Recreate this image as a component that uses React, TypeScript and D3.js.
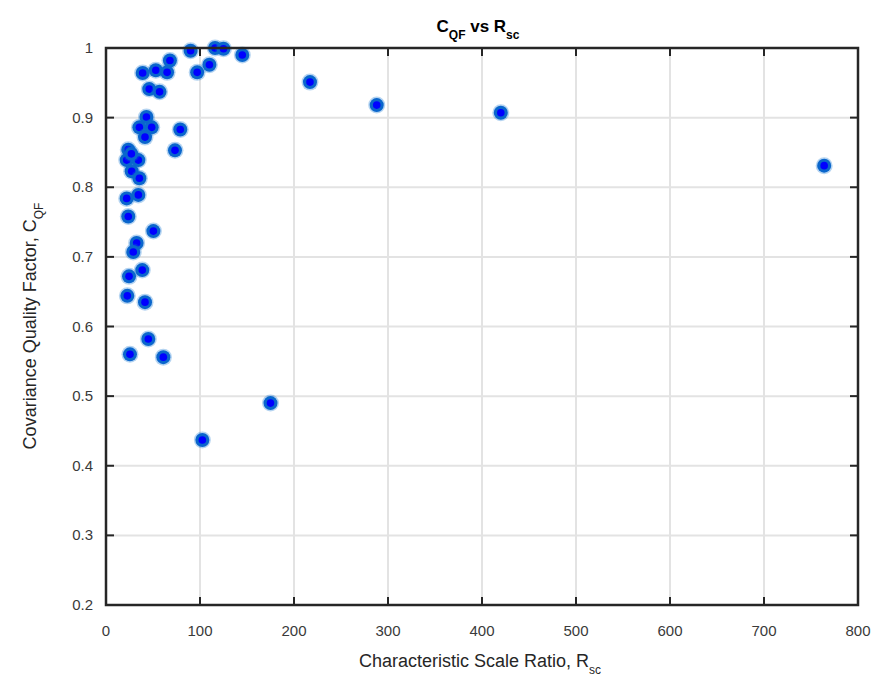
import React from "react";
import * as d3 from "d3";

const rscValues = [90, 116, 125, 145, 68, 39, 53, 65, 97, 110, 46, 57, 43, 35.5, 48.6, 41.5, 79, 73.4, 23.7, 34.4, 22, 27.3, 35.5, 34.4, 22, 23.7, 50.4, 32.6, 29, 38.6, 24.5, 22.7, 41.5, 45, 25.5, 61, 175, 102.5, 217, 288, 420, 764, 27];
const cqfValues = [0.996, 1.0, 0.999, 0.99, 0.982, 0.964, 0.968, 0.965, 0.965, 0.976, 0.941, 0.937, 0.901, 0.886, 0.886, 0.872, 0.883, 0.853, 0.854, 0.839, 0.839, 0.823, 0.813, 0.789, 0.784, 0.758, 0.737, 0.72, 0.707, 0.681, 0.672, 0.644, 0.635, 0.582, 0.56, 0.556, 0.49, 0.437, 0.951, 0.918, 0.907, 0.831, 0.848];
const xTicks = [0, 100, 200, 300, 400, 500, 600, 700, 800];
const yTicks = [0.2, 0.3, 0.4, 0.5, 0.6, 0.7, 0.8, 0.9, 1];

export default function App() {
  const W = 889, H = 687;
  const left = 106, right = 858, top = 48, bottom = 605;
  const x = d3.scaleLinear().domain([0, 800]).range([left, right]);
  const y = d3.scaleLinear().domain([0.2, 1]).range([bottom, top]);
  const font = "'Liberation Sans', Arial, sans-serif";
  const tickLen = 8;
  const axisColor = "#262626";
  return (
    <svg width={W} height={H} style={{ position: "absolute", left: 0, top: 0, background: "#fff" }}>
      <rect x={0} y={0} width={W} height={H} fill="#fff" />
      {xTicks.map((t) => (
        <line key={"gx" + t} x1={x(t)} x2={x(t)} y1={top} y2={bottom} stroke="#e3e3e3" strokeWidth={2} />
      ))}
      {yTicks.map((t) => (
        <line key={"gy" + t} x1={left} x2={right} y1={y(t)} y2={y(t)} stroke="#e3e3e3" strokeWidth={2} />
      ))}
      {xTicks.map((t) => (
        <g key={"tx" + t}>
          <line x1={x(t)} x2={x(t)} y1={bottom} y2={bottom - tickLen} stroke={axisColor} strokeWidth={2} />
          <line x1={x(t)} x2={x(t)} y1={top} y2={top + tickLen} stroke={axisColor} strokeWidth={2} />
          <text x={x(t)} y={bottom + 31} textAnchor="middle" fontFamily={font} fontSize={15} fill="#3a3a3a">{t}</text>
        </g>
      ))}
      {yTicks.map((t) => (
        <g key={"ty" + t}>
          <line x1={left} x2={left + tickLen} y1={y(t)} y2={y(t)} stroke={axisColor} strokeWidth={2} />
          <line x1={right} x2={right - tickLen} y1={y(t)} y2={y(t)} stroke={axisColor} strokeWidth={2} />
          <text x={left - 13} y={y(t) + 5} textAnchor="end" fontFamily={font} fontSize={15} fill="#3a3a3a">{t === 1 ? "1" : t.toFixed(1)}</text>
        </g>
      ))}
      {rscValues.map((v, i) => (
        <g key={"p" + i}>
          <circle cx={x(v)} cy={y(cqfValues[i])} r={8.5} fill="#0a6fd0" opacity={0.3} />
          <circle cx={x(v)} cy={y(cqfValues[i])} r={7} fill="#0a66cc" />
          <circle cx={x(v)} cy={y(cqfValues[i])} r={3.8} fill="#0000ff" />
        </g>
      ))}
      <rect x={left} y={top} width={right - left} height={bottom - top} fill="none" stroke={axisColor} strokeWidth={2.5} />
      <text x={478} y={32} textAnchor="middle" fontFamily={font} fontSize={17} fontWeight="bold" fill="#000">
        <tspan>C</tspan>
        <tspan fontSize={12} dy={7}>QF</tspan>
        <tspan dy={-7}> vs R</tspan>
        <tspan fontSize={12} dy={7}>sc</tspan>
      </text>
      <text x={480} y={667} textAnchor="middle" fontFamily={font} fontSize={18} fill="#262626">
        <tspan>Characteristic Scale Ratio, R</tspan>
        <tspan fontSize={12} dy={7}>sc</tspan>
      </text>
      <text transform={`translate(36, 326) rotate(-90)`} textAnchor="middle" fontFamily={font} fontSize={18} fill="#262626">
        <tspan>Covariance Quality Factor, C</tspan>
        <tspan fontSize={12} dy={7}>QF</tspan>
      </text>
    </svg>
  );
}
